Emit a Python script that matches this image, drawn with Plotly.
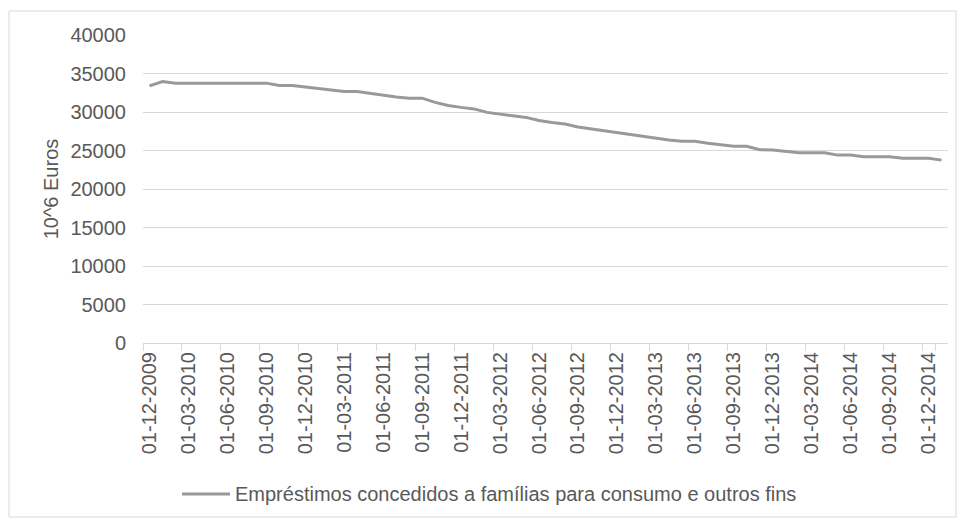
import plotly.graph_objects as go

# Monthly stock of consumer and other loans to households (10^6 EUR)
months = [
    "01-12-2009",
    "01-01-2010", "01-02-2010", "01-03-2010", "01-04-2010", "01-05-2010", "01-06-2010",
    "01-07-2010", "01-08-2010", "01-09-2010", "01-10-2010", "01-11-2010", "01-12-2010",
    "01-01-2011", "01-02-2011", "01-03-2011", "01-04-2011", "01-05-2011", "01-06-2011",
    "01-07-2011", "01-08-2011", "01-09-2011", "01-10-2011", "01-11-2011", "01-12-2011",
    "01-01-2012", "01-02-2012", "01-03-2012", "01-04-2012", "01-05-2012", "01-06-2012",
    "01-07-2012", "01-08-2012", "01-09-2012", "01-10-2012", "01-11-2012", "01-12-2012",
    "01-01-2013", "01-02-2013", "01-03-2013", "01-04-2013", "01-05-2013", "01-06-2013",
    "01-07-2013", "01-08-2013", "01-09-2013", "01-10-2013", "01-11-2013", "01-12-2013",
    "01-01-2014", "01-02-2014", "01-03-2014", "01-04-2014", "01-05-2014", "01-06-2014",
    "01-07-2014", "01-08-2014", "01-09-2014", "01-10-2014", "01-11-2014", "01-12-2014",
    "01-01-2015",
]

loans = [
    33400,
    33950, 33750, 33750, 33750, 33750, 33750,
    33750, 33750, 33750, 33450, 33450, 33250,
    33050, 32800, 32650, 32650, 32400, 32150,
    31950, 31800, 31800, 31250, 30850, 30600,
    30400, 29950, 29700, 29500, 29300, 28900,
    28650, 28450, 28050, 27800, 27550, 27300,
    27050, 26850, 26600, 26350, 26200, 26200,
    25950, 25750, 25550, 25550, 25100, 25050,
    24850, 24700, 24700, 24700, 24400, 24400,
    24200, 24200, 24200, 24000, 24000, 24000,
    23750,
]

series_name = "Empréstimos concedidos a famílias para consumo e outros fins"
y_title = "10^6 Euros"
y_ticks = [0, 5000, 10000, 15000, 20000, 25000, 30000, 35000, 40000]
y_tick_labels = [str(v) for v in y_ticks]
x_tick_labels = months[0:61:3]

TEXT = "#595959"
GRID = "#D9D9D9"
LINE = "#999999"
FONT = "Liberation Sans, Arial, sans-serif"
FS = 20

fig = go.Figure()
fig.add_trace(go.Scatter(
    x=months, y=loans, mode="lines", name=series_name,
    line=dict(color=LINE, width=3), showlegend=False,
))

fig.update_layout(
    width=957, height=518,
    margin=dict(l=143, r=9, t=35, b=175),
    paper_bgcolor="white", plot_bgcolor="white",
    font=dict(family=FONT, size=FS, color=TEXT),
    xaxis=dict(
        type="category", range=[-0.5, len(months) - 0.5],
        tickmode="array", tickvals=x_tick_labels, ticktext=x_tick_labels,
        tickson="boundaries", ticks="outside", ticklen=7, tickcolor=GRID,
        tickangle=-90, showgrid=False, showline=True, linecolor=GRID, linewidth=1,
        tickfont=dict(size=FS, color=TEXT),
    ),
    yaxis=dict(
        range=[0, 40000], tickmode="array", tickvals=y_ticks, ticktext=y_tick_labels,
        showgrid=True, gridcolor=GRID, gridwidth=1, zeroline=False, showline=False,
        ticks="", ticklabelstandoff=16,
        tickfont=dict(size=FS, color=TEXT),
        title=dict(text=y_title, standoff=6, font=dict(size=FS, color=TEXT)),
    ),
)

# Legend drawn by hand: sample line plus label under the axis
legend_y = (343 - 494) / 308
x0 = (182 - 143) / 805
x1 = (230 - 143) / 805
fig.add_shape(type="line", xref="paper", yref="paper", x0=x0, x1=x1,
              y0=legend_y, y1=legend_y, line=dict(color=LINE, width=3))
fig.add_annotation(xref="paper", yref="paper", x=(233 - 143) / 805, y=legend_y,
                   xanchor="left", yanchor="middle", showarrow=False,
                   text=series_name, font=dict(size=FS, color=TEXT))

# Chart-area border
fig.add_shape(type="rect", xref="paper", yref="paper",
              x0=(9 - 143) / 805, x1=(956 - 143) / 805,
              y0=(343 - 517) / 308, y1=(343 - 11) / 308,
              line=dict(color=GRID, width=1), fillcolor="rgba(0,0,0,0)", layer="below")

fig.write_html("out.html")
